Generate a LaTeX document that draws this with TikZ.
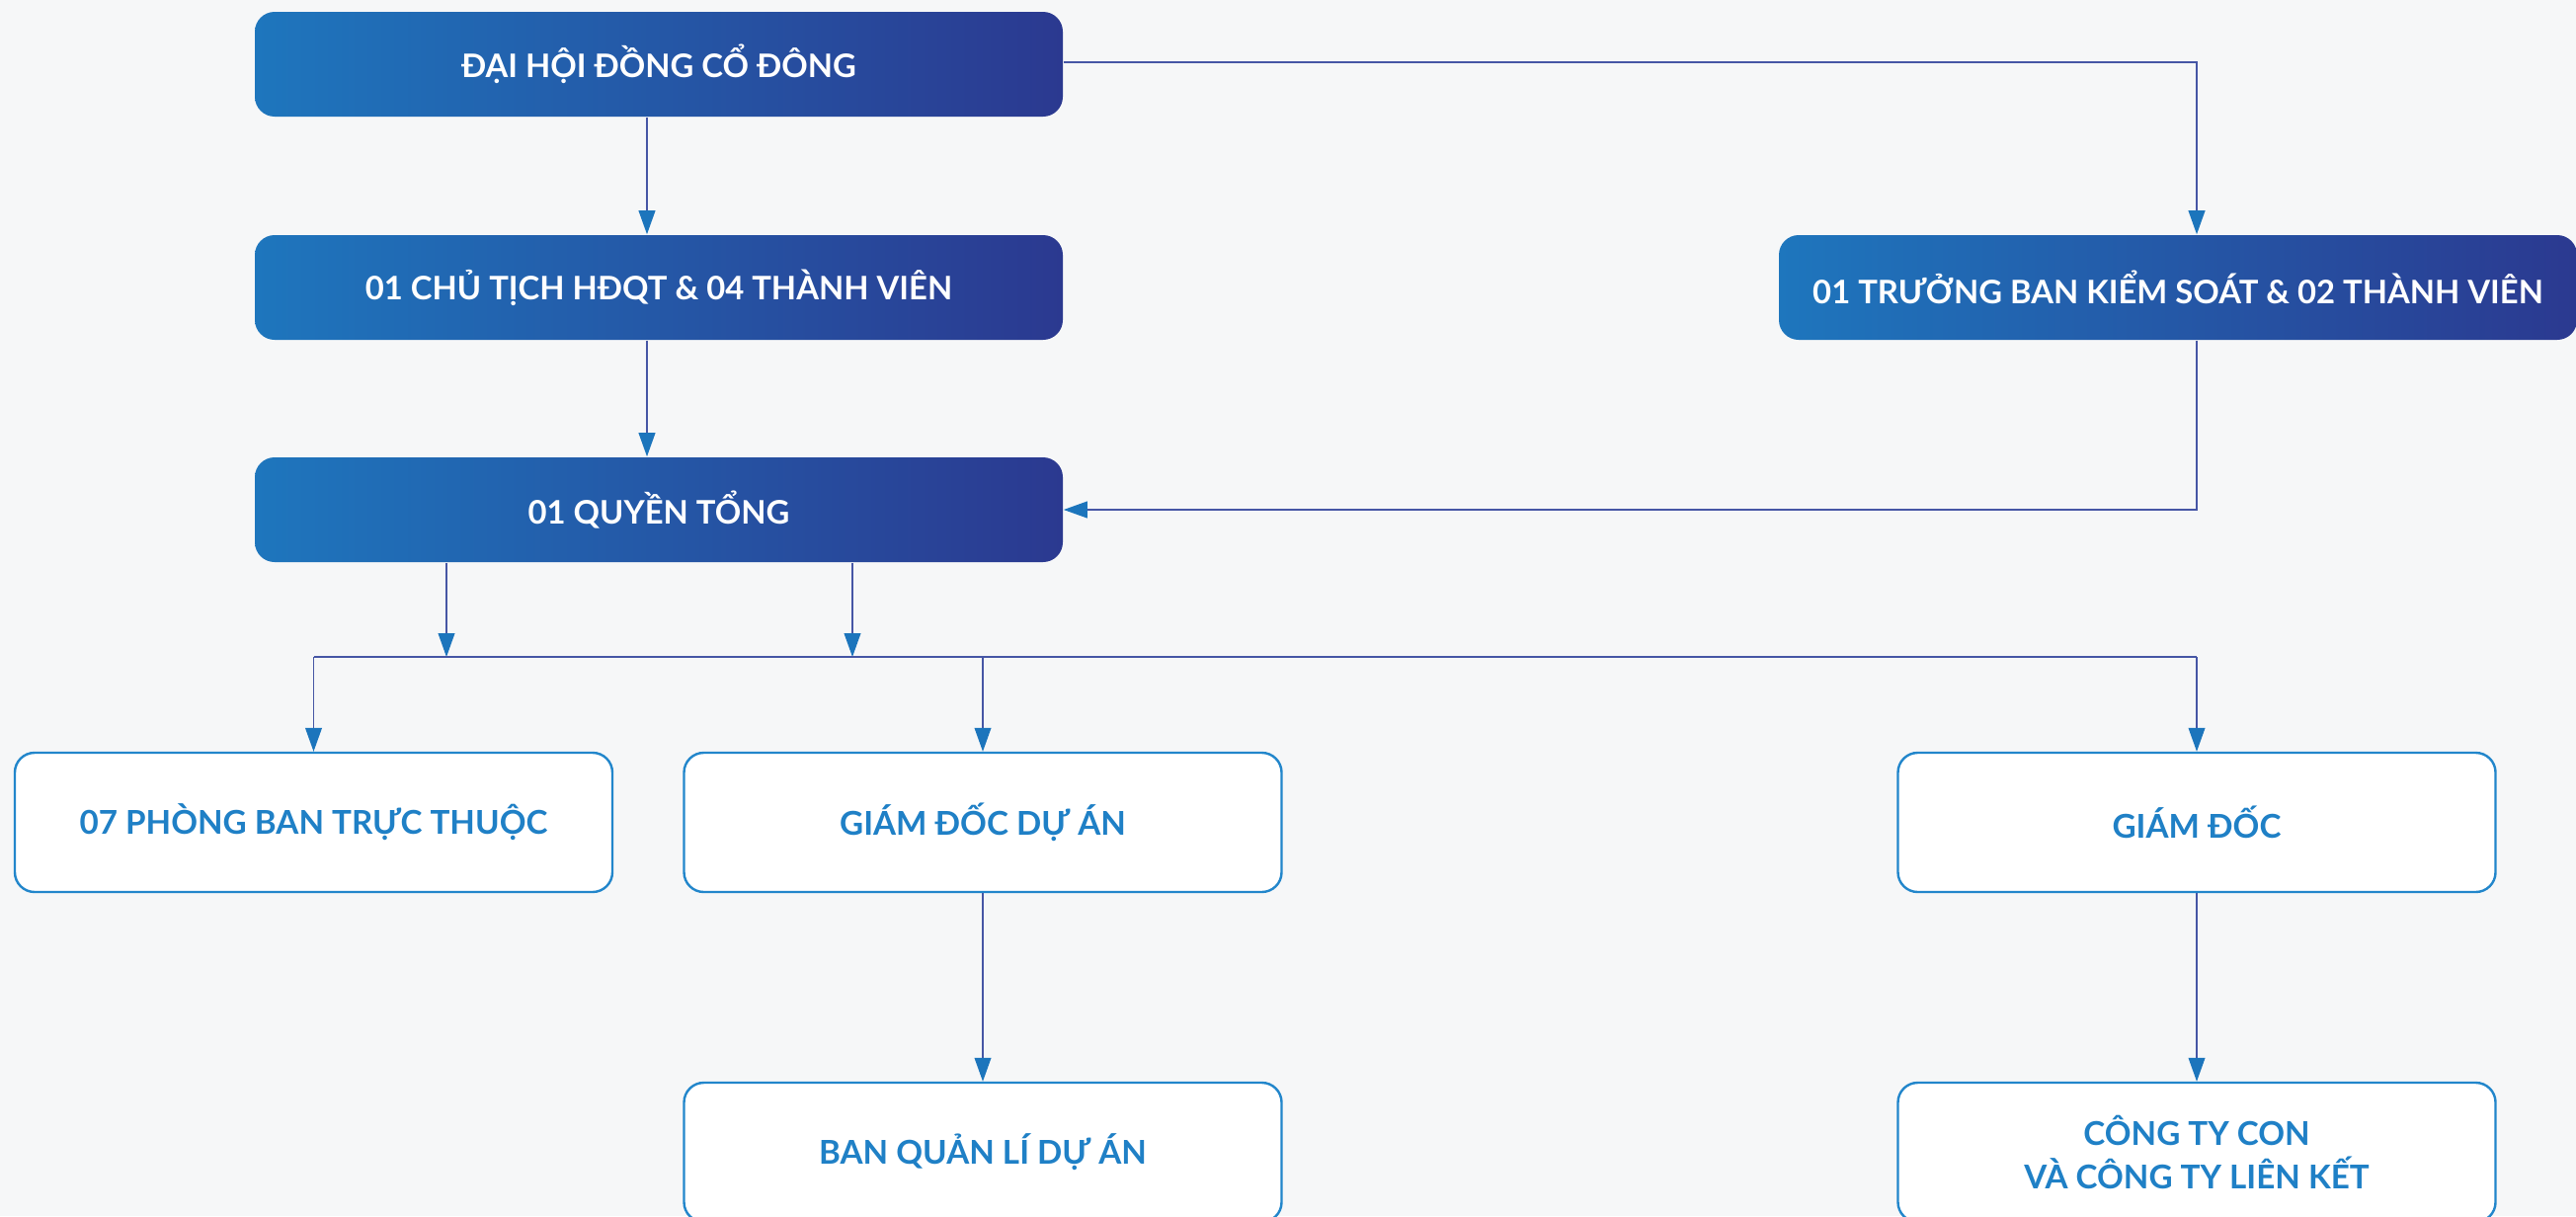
\documentclass[tikz,border=0pt]{standalone}
\usepackage{fontspec}
\setmainfont{Lato}
\usetikzlibrary{arrows.meta}
\definecolor{cA}{HTML}{1E76BD}
\definecolor{cB}{HTML}{2B3990}
\definecolor{lnc}{HTML}{4656A5}
\definecolor{tipc}{HTML}{1C75BC}
\definecolor{txtb}{HTML}{1F80C6}
\definecolor{brd}{HTML}{2286CB}
\definecolor{bgc}{HTML}{F6F7F8}
\begin{document}
\begin{tikzpicture}[x=0.25pt,y=-0.25pt,
  darkbox/.style={rounded corners=5pt, left color=cA, right color=cB, draw=none,
    text=white, font=\bfseries\fontsize{8.2}{11}\selectfont,
    minimum height=26.5pt, inner sep=0pt},
  lightbox/.style={rounded corners=5pt, draw=brd, line width=0.6pt, fill=white,
    text=txtb, font=\bfseries\fontsize{8.3}{10.8}\selectfont,
    minimum width=151.25pt, minimum height=35.25pt, inner sep=0pt, align=center},
  conn/.style={draw=lnc, line width=0.35pt, -{Triangle[length=6pt,width=4.2pt,color=tipc]}},
  plain/.style={draw=lnc, line width=0.35pt}]
\useasboundingbox (0,0) rectangle (2608,1231);
\clip (0,0) rectangle (2608,1231);
\fill[bgc] (0,0) rectangle (2608,1231);

\node[darkbox, minimum width=204.5pt] (A) at (667,65) {ĐẠI HỘI ĐỒNG CỔ ĐÔNG};
\node[darkbox, minimum width=204.5pt] (B) at (667,291) {01 CHỦ TỊCH HĐQT \& 04 THÀNH VIÊN};
\node[darkbox, minimum width=204.5pt] (C) at (667,516) {01 QUYỀN TỔNG};
\node[darkbox, minimum width=202pt] (D) at (2205,291) {01 TRƯỞNG BAN KIỂM SOÁT \& 02 THÀNH VIÊN};

\node[lightbox] (E) at (317.5,832.5) {07 PHÒNG BAN TRỰC THUỘC};
\node[lightbox] (F) at (995,832.5) {GIÁM ĐỐC DỰ ÁN};
\node[lightbox] (G) at (2224,832.5) {GIÁM ĐỐC};
\node[lightbox] (H) at (995,1166.5) {BAN QUẢN LÍ DỰ ÁN};
\node[lightbox] (I) at (2224,1166.5) {CÔNG TY CON\\VÀ CÔNG TY LIÊN KẾT};

\coordinate (busL) at (317.5,665);
\coordinate (busR) at (2224,665);

\draw[conn] ([xshift=-3pt]A.south) -- ([xshift=-3pt]B.north);
\draw[conn] ([xshift=-3pt]B.south) -- ([xshift=-3pt]C.north);
\draw[conn] ([yshift=0.5pt]A.east) -| ([xshift=4.75pt]D.north);
\draw[conn] ([xshift=4.75pt]D.south) |- (C.east);

\draw[conn] ([xshift=-53.75pt]C.south) -- ([xshift=-53.75pt]C.south |- busL);
\draw[conn] ([xshift=49pt]C.south) -- ([xshift=49pt]C.south |- busL);
\draw[plain] (busL) -- (busR);
\draw[conn] (busL) -- (E.north);
\draw[conn] (busL -| F.north) -- (F.north);
\draw[conn] (busR) -- (G.north);
\draw[conn] (F.south) -- (H.north);
\draw[conn] (G.south) -- (I.north);
\end{tikzpicture}
\end{document}
